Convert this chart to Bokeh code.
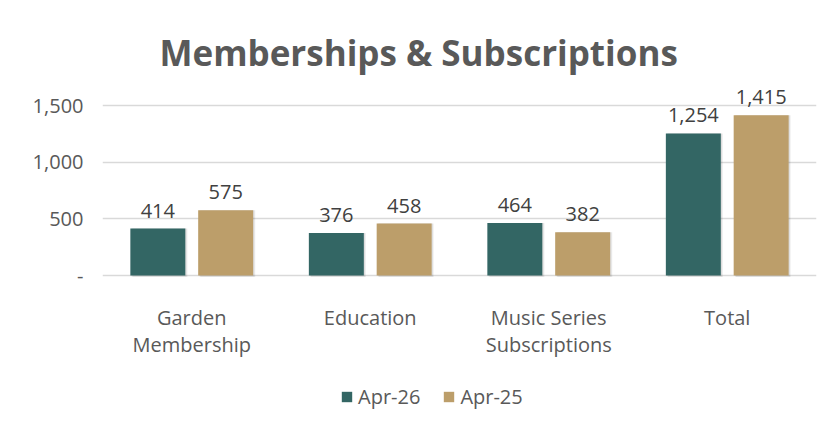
from bokeh.plotting import figure
from bokeh.layouts import column
from bokeh.models import (ColumnDataSource, FactorRange, Range1d, FixedTicker, Legend,
                          LegendItem, Title, InlineStyleSheet)
from bokeh.transform import dodge
from bokeh.core.properties import value
from bokeh.embed import file_html
from bokeh.resources import INLINE

# ---- data ----
categories = ["Garden\nMembership", "Education", "Music Series\nSubscriptions", "Total"]
apr26 = [414, 376, 464, 1254]
apr25 = [575, 458, 382, 1415]
series_names = ["Apr-26", "Apr-25"]
y_ticks = [0, 500, 1000, 1500]
y_tick_labels = ["-", "500", "1,000", "1,500"]
title_text = "Memberships & Subscriptions"

GREEN = "#336664"
GOLD = "#BC9E6A"
TXT = "#595959"
FONT = "Open Sans"

src = ColumnDataSource(dict(
    cat=categories,
    a26=apr26,
    a25=apr25,
    l26=[f"{v:,}" for v in apr26],
    l25=[f"{v:,}" for v in apr25],
))

p = figure(x_range=FactorRange(factors=categories), y_range=Range1d(-17.6, 1764.8),
           frame_width=714, frame_height=202,
           min_border_left=102, min_border_right=7, min_border_top=75, min_border_bottom=90,
           output_backend="svg", toolbar_location=None, tools="")
p.outline_line_color = None
p.background_fill_color = "white"
p.border_fill_color = "white"

p.title = Title(text=title_text, align="left", offset=57, text_font=FONT,
                text_font_size="35px", text_font_style="bold", text_color=TXT,
                standoff=0)

OFF = 0.19
W = 0.308

# soft shadows
for dx, dy, a in [(0.012, 14, 0.06), (0.007, 8, 0.08)]:
    p.vbar(x=dodge("cat", -OFF + dx, range=p.x_range), top="a26", bottom=-dy, width=W,
           source=src, fill_color="black", fill_alpha=a, line_color=None)
    p.vbar(x=dodge("cat", OFF + dx, range=p.x_range), top="a25", bottom=-dy, width=W,
           source=src, fill_color="black", fill_alpha=a, line_color=None)

r26 = p.vbar(x=dodge("cat", -OFF, range=p.x_range), top="a26", bottom=0, width=W,
             source=src, fill_color=GREEN, line_color=None)
r25 = p.vbar(x=dodge("cat", OFF, range=p.x_range), top="a25", bottom=0, width=W,
             source=src, fill_color=GOLD, line_color=None)

for key, lab, off in [("a26", "l26", -OFF), ("a25", "l25", OFF)]:
    p.text(x=dodge("cat", off, range=p.x_range), y=key, text=lab, source=src,
           y_offset=-18, text_align="center", text_baseline="alphabetic",
           text_font=value(FONT), text_font_size="20px", text_color="#404040")

# axes
p.yaxis.ticker = FixedTicker(ticks=y_ticks)
p.yaxis.major_label_overrides = {t: s for t, s in zip(y_ticks, y_tick_labels)}
p.yaxis.axis_line_color = None
p.yaxis.major_tick_line_color = None
p.yaxis.minor_tick_line_color = None
p.yaxis.major_tick_out = 0
p.yaxis.major_tick_in = 0
p.yaxis.major_label_standoff = 19
p.yaxis.major_label_text_font = FONT
p.yaxis.major_label_text_font_size = "20px"
p.yaxis.major_label_text_color = TXT

ax = p.xaxis[0]
ax.axis_line_color = None
ax.major_tick_line_color = None
ax.major_tick_out = 0
ax.major_tick_in = 0
ax.major_label_standoff = 26
ax.major_label_text_font = FONT
ax.major_label_text_font_size = "20px"
ax.major_label_text_color = TXT
ax.major_label_text_line_height = 1.0

p.xgrid.grid_line_color = None
p.ygrid.grid_line_color = "#d9d9d9"
p.ygrid.grid_line_width = 1.5

# legend strip below the chart
pl = figure(width=823, height=50, x_range=Range1d(0, 1), y_range=Range1d(0, 1),
            x_axis_location=None, y_axis_location=None,
            min_border_left=0, min_border_right=0, min_border_top=0, min_border_bottom=0,
            output_backend="svg", toolbar_location=None, tools="")
pl.grid.visible = False
pl.outline_line_color = None
pl.border_fill_color = "white"
lsrc = ColumnDataSource(dict(x=[-10], top=[-10]))
g26 = pl.vbar(x="x", top="top", width=0.1, source=lsrc, fill_color=GREEN, line_color=None)
g25 = pl.vbar(x="x", top="top", width=0.1, source=lsrc, fill_color=GOLD, line_color=None)

legend = Legend(items=[LegendItem(label=series_names[0], renderers=[g26]),
                       LegendItem(label=series_names[1], renderers=[g25])],
                orientation="horizontal", location=(238, 7),
                glyph_width=13, glyph_height=13, label_standoff=5, spacing=22,
                padding=0, margin=0, border_line_color=None, background_fill_alpha=0,
                label_text_font=FONT, label_text_font_size="20px", label_text_color=TXT)
pl.add_layout(legend)

layout = column(p, pl, spacing=0)
layout.stylesheets = [InlineStyleSheet(css=(
    ":host { border-left: 2px solid #dedede; border-top: 2px solid #dedede;"
    " margin-left: -4px; margin-top: -2px; padding-left: 2px; }"))]
open("out.html", "w").write(file_html(layout, INLINE))
